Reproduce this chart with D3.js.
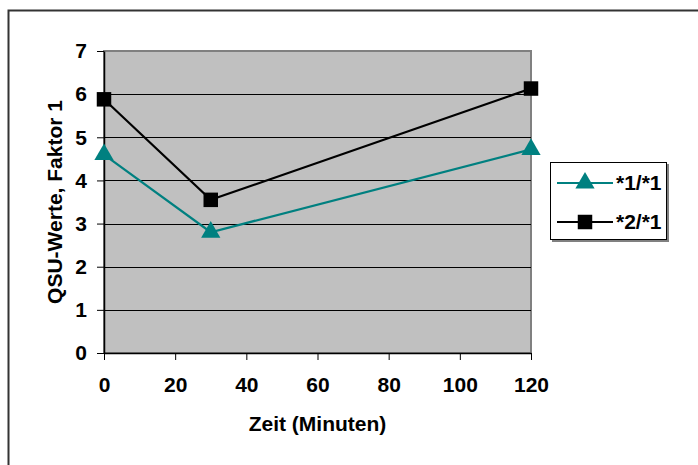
<!DOCTYPE html>
<html>
<head>
<meta charset="utf-8">
<script src="https://cdn.jsdelivr.net/npm/d3@7"></script>
<style>
    body { margin: 0; background: #fff; }
    svg { display: block; font-family: Arial, "Liberation Sans", sans-serif; font-weight: bold; }
</style>
</head>
<body>
<div id="chart"></div>
<script>

// data
var xValues = [0, 30, 120];
var seriesNames = ["*1/*1", "*2/*1"];
var series1 = [4.6, 2.8, 4.72];
var series2 = [5.88, 3.55, 6.13];
var xTicks = [0, 20, 40, 60, 80, 100, 120];
var yTicks = [0, 1, 2, 3, 4, 5, 6, 7];

var svgWidth = 698,
    svgHeight = 465;

var margin = {top: 51, right: 167, bottom: 112, left: 104};
var width = svgWidth - margin.left - margin.right;
var height = svgHeight - margin.top - margin.bottom;

var fontSize = "21px";

var svg = d3.select("#chart").append("svg")
    .attr("width", svgWidth)
    .attr("height", svgHeight);

// outer chart frame (only top and left edges are visible)
svg.append("rect")
    .attr("x", 8.5)
    .attr("y", 10.5)
    .attr("width", 720)
    .attr("height", 500)
    .attr("fill", "#fff")
    .attr("stroke", "#333")
    .attr("stroke-width", 2);

var plotArea = svg.append("g")
    .attr("transform", "translate(" + margin.left + "," + margin.top + ")")
    .attr("class", "plotArea");

var xscale = d3.scaleLinear()
    .range([0, width])
    .domain([0, 120]);

var yscale = d3.scaleLinear()
    .range([height, 0])
    .domain([0, 7]);

plotArea.append("rect")
    .attr("width", width)
    .attr("height", height)
    .attr("fill", "#c0c0c0")
    .attr("stroke", "#808080")
    .attr("stroke-width", 2);

// gridlines
plotArea.selectAll(".grid")
    .data(yTicks.filter(d => d > 0 && d < 7))
    .enter()
    .append("line")
    .attr("class", "grid")
    .attr("x1", 0)
    .attr("x2", width)
    .attr("y1", d => Math.round(yscale(d)) + 0.5)
    .attr("y2", d => Math.round(yscale(d)) + 0.5)
    .attr("stroke", "#000")
    .attr("stroke-width", 1);

var xAxis = d3.axisBottom(xscale)
    .tickValues(xTicks)
    .tickFormat(d3.format("d"))
    .tickSize(7)
    .tickPadding(17)
    .tickSizeOuter(0);

var yAxis = d3.axisLeft(yscale)
    .tickValues(yTicks)
    .tickFormat(d3.format("d"))
    .tickSize(7)
    .tickPadding(10)
    .tickSizeOuter(0);

var gX = plotArea.append("g")
    .attr("class", "axis--x")
    .attr("transform", "translate(0," + height + ")")
    .call(xAxis);

var gY = plotArea.append("g")
    .attr("class", "axis--y")
    .call(yAxis);

[gX, gY].forEach(g => {
    g.attr("font-size", null).attr("font-family", null);
    g.select(".domain").attr("stroke", "#000").attr("stroke-width", 1.5);
    g.selectAll(".tick line").attr("stroke", "#000");
    g.selectAll(".tick text")
        .attr("fill", "#000")
        .style("font-size", fontSize);
});

gX.append("text")
    .attr("fill", "#000")
    .attr("x", width / 2)
    .attr("y", 78)
    .attr("text-anchor", "middle")
    .style("font-size", fontSize)
    .text("Zeit (Minuten)");

gY.append("text")
    .attr("fill", "#000")
    .attr("transform", "rotate(-90)")
    .attr("x", -height / 2)
    .attr("y", -42)
    .attr("text-anchor", "middle")
    .style("font-size", fontSize)
    .text("QSU-Werte, Faktor 1");

var seriesData = [
    { name: seriesNames[0], values: series1, colour: "#008080", symbol: d3.symbolTriangle, size: 160 },
    { name: seriesNames[1], values: series2, colour: "#000000", symbol: d3.symbolSquare, size: 210 }
];

var line = d3.line()
    .x((d, i) => xscale(xValues[i]))
    .y(d => yscale(d));

seriesData.forEach((s, k) => {
    plotArea.append("path")
        .datum(s.values)
        .attr("fill", "none")
        .attr("stroke", s.colour)
        .attr("stroke-width", 2.2)
        .attr("d", line);

    plotArea.selectAll(".point-" + k)
        .data(s.values)
        .enter()
        .append("path")
        .attr("class", "point-" + k)
        .attr("d", d3.symbol().type(s.symbol).size(s.size))
        .attr("transform", (d, i) => "translate(" + xscale(xValues[i]) + "," + yscale(d) + ")")
        .attr("fill", s.colour);
});

// legend
var legend = svg.append("g")
    .attr("transform", "translate(550,162)");

legend.append("rect")
    .attr("x", 2)
    .attr("y", 2)
    .attr("width", 117)
    .attr("height", 78)
    .attr("fill", "#808080");

legend.append("rect")
    .attr("x", 0.5)
    .attr("y", 0.5)
    .attr("width", 116)
    .attr("height", 77)
    .attr("fill", "#fff")
    .attr("stroke", "#000")
    .attr("stroke-width", 1);

var entries = legend.selectAll(".entry")
    .data(seriesData)
    .enter()
    .append("g")
    .attr("class", "entry")
    .attr("transform", (d, i) => "translate(0," + (21 + i * 39) + ")");

entries.append("line")
    .attr("x1", 7)
    .attr("x2", 63)
    .attr("stroke", d => d.colour)
    .attr("stroke-width", 2.2);

entries.append("path")
    .attr("d", d => d3.symbol().type(d.symbol).size(d.size)())
    .attr("transform", "translate(35,0)")
    .attr("fill", d => d.colour);

entries.append("text")
    .attr("x", 66)
    .attr("dy", "0.35em")
    .attr("fill", "#000")
    .style("font-size", fontSize)
    .text(d => d.name);

</script>
</body>
</html>
